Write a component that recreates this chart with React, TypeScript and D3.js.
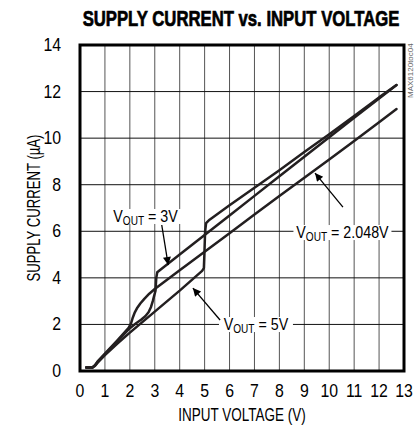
import React from 'react';
import * as d3 from 'd3';

// supply current (uA) vs input voltage (V)
const curve5V: [number, number][] = [
  [0.25, 0.15], [0.5, 0.15], [0.6, 0.22], [0.7, 0.35], [1, 0.68], [1.5, 1.18], [2, 1.65],
  [3, 2.55], [4, 3.45], [4.9, 4.3], [4.97, 4.42], [4.99, 5.0], [5.02, 6.0],
  [5.06, 6.35], [5.2, 6.5], [6, 7.12], [7, 7.87], [8, 8.62], [9, 9.4], [10, 10.17],
  [11, 10.95], [12, 11.75], [12.7, 12.28],
];
const curve3V: [number, number][] = [
  [0.25, 0.15], [0.5, 0.15], [0.6, 0.24], [0.7, 0.38], [1, 0.72], [1.5, 1.28], [2, 1.84],
  [2.25, 2.05], [2.45, 2.2], [2.62, 2.35], [2.75, 2.52], [2.85, 2.75], [2.92, 3.0],
  [2.98, 3.25], [3.03, 3.45], [3.06, 4.0], [3.1, 4.24], [3.2, 4.33], [4, 5.0],
  [5, 5.84], [6, 6.68], [7, 7.52], [8, 8.36], [9, 9.2], [10, 10.04], [11, 10.88],
  [12, 11.7], [12.7, 12.28],
];
const curve2048: [number, number][] = [
  [0.25, 0.15], [0.5, 0.15], [0.6, 0.25], [0.7, 0.4], [1, 0.75], [1.5, 1.32], [1.95, 1.85],
  [2.05, 2.05], [2.12, 2.3], [2.2, 2.52], [2.3, 2.72], [2.42, 2.9], [2.58, 3.1],
  [2.78, 3.32], [3, 3.52], [4, 4.33], [5, 5.12], [6, 5.92], [7, 6.72], [8, 7.52],
  [9, 8.3], [10, 9.08], [11, 9.88], [12, 10.68], [12.7, 11.25],
];

const xTicks = d3.range(0, 14);
const yTicks = d3.range(0, 15, 2);

// callouts: label anchor, arrow start and arrow tip, all in data units
const callouts = [
  { value: '3V', lx: 2.63, ly: 6.4, ax: 3.28, ay: 6.27, tx: 3.54, ty: 4.55, w: 66 },
  { value: '2.048V', lx: 10.53, ly: 5.71, ax: 10.55, ay: 7.04, tx: 9.43, ty: 8.5, w: 92 },
  { value: '5V', lx: 7.06, ly: 1.76, ax: 5.62, ay: 2.19, tx: 4.53, ty: 3.56, w: 68 },
];

const W = 414;
const H = 432;
const FONT = "'Liberation Sans', Arial, sans-serif";

// condensed look: squeeze the text horizontally around its anchor
const NText = ({ x, y, sx, size, anchor = 'middle', rotate = 0, weight = 'normal', children, ...rest }: any) => (
  <g transform={`translate(${x},${y}) rotate(${rotate}) scale(${sx},1)`}>
    <text textAnchor={anchor} fontSize={size} fontWeight={weight} {...rest}>{children}</text>
  </g>
);

export default function App() {
  const x = d3.scaleLinear().domain([0, 13]).range([80, 404]);
  const y = d3.scaleLinear().domain([0, 14]).range([371, 45]);
  const line = d3.line<[number, number]>().x(d => x(d[0])).y(d => y(d[1]));

  return (
    <svg width={W} height={H} style={{ position: 'absolute', left: 0, top: 0, background: '#fff' }}
      fontFamily={FONT}>
      <defs>
        <marker id="head" viewBox="0 0 10 10" refX="10" refY="5" markerWidth="11" markerHeight="8"
          markerUnits="userSpaceOnUse" orient="auto">
          <path d="M0,0 L10,5 L0,10 z" fill="#000" />
        </marker>
      </defs>

      <NText x={241} y={26} sx={0.76} size={22} weight="bold" stroke="#000" strokeWidth={0.7}>
        SUPPLY CURRENT vs. INPUT VOLTAGE
      </NText>

      {/* grid */}
      {xTicks.slice(1, -1).map(t => (
        <line key={'gx' + t} x1={x(t)} x2={x(t)} y1={y(14)} y2={y(0)} stroke="#555" strokeWidth={1} />
      ))}
      {yTicks.slice(1, -1).map(t => (
        <line key={'gy' + t} x1={x(0)} x2={x(13)} y1={y(t)} y2={y(t)} stroke="#111" strokeWidth={1} />
      ))}

      {/* label backgrounds break the gridlines */}
      {callouts.map(c => (
        <rect key={'bg' + c.value} x={x(c.lx) - c.w / 2 - 3} y={y(c.ly) - 13} width={c.w + 6} height={15} fill="#fff" />
      ))}

      {[curve2048, curve3V, curve5V].map((c, i) => (
        <path key={i} d={line(c) || ''} fill="none" stroke="#231f20" strokeWidth={2.5}
          strokeLinejoin="round" strokeLinecap="round" />
      ))}

      <rect x={x(0)} y={y(14)} width={x(13) - x(0)} height={y(0) - y(14)} fill="none" stroke="#000" strokeWidth={3} />

      {callouts.map(c => (
        <g key={c.value}>
          <line x1={x(c.ax)} y1={y(c.ay)} x2={x(c.tx)} y2={y(c.ty)} stroke="#000" strokeWidth={1.3}
            markerEnd="url(#head)" />
          <NText x={x(c.lx)} y={y(c.ly)} sx={0.84} size={17}>
            V<tspan fontSize={12} dy={3}>OUT</tspan><tspan dy={-3}>{' = ' + c.value}</tspan>
          </NText>
        </g>
      ))}

      {yTicks.map(t => (
        <NText key={'yt' + t} x={61} y={y(t) + 6} sx={0.88} size={18} anchor="end">{t}</NText>
      ))}
      {xTicks.map(t => (
        <NText key={'xt' + t} x={x(t)} y={397} sx={0.88} size={18}>{t}</NText>
      ))}

      <NText x={242} y={421} sx={0.75} size={18}>INPUT VOLTAGE (V)</NText>
      <NText x={40} y={(y(0) + y(14)) / 2} rotate={-90} sx={0.73} size={18}>SUPPLY CURRENT (µA)</NText>
      <text transform="translate(413,98) rotate(-90)" fontSize={8} fill="#666">MAX6120toc04</text>
    </svg>
  );
}
